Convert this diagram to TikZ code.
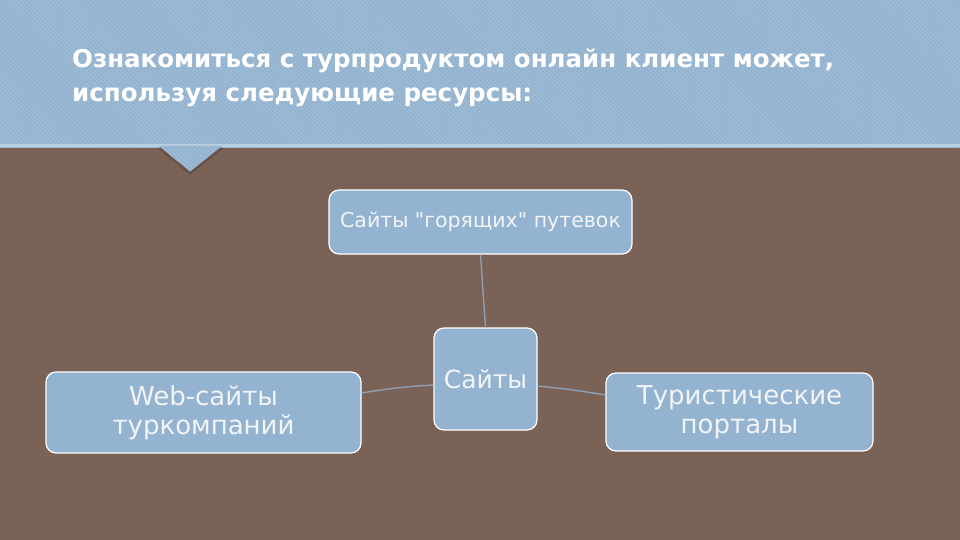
\documentclass[tikz,border=0pt]{standalone}
\usepackage{fontspec}
\setmainfont{DejaVu Sans}[Ligatures=TeXOff]
\usetikzlibrary{patterns.meta}
\definecolor{band}{HTML}{92B2CF}
\definecolor{hatch}{HTML}{A4C0D8}
\definecolor{brownbg}{HTML}{7A6257}
\definecolor{boxfill}{HTML}{93B3D1}
\definecolor{linkc}{HTML}{8C9FB3}
\definecolor{txt}{HTML}{F2F4F6}
\tikzset{
  box/.style={draw=white, line width=1.2pt, fill=boxfill, rounded corners=10pt, inner sep=0pt, text=txt, align=center},
  link/.style={draw=linkc, line width=1.4pt},
  title/.style={anchor=base west, text=white, font=\bfseries\fontsize{24.5}{29}\selectfont, inner sep=0pt},
}
\begin{document}
\begin{tikzpicture}[x=1pt,y=-1pt]
\useasboundingbox (0,0) rectangle (960,540);
\fill[brownbg] (0,0) rectangle (960,540);
\fill[band] (0,0) rectangle (960,148);
\fill[pattern={Lines[angle=-45,distance=3pt,line width=0.8pt]}, pattern color=hatch] (0,0) rectangle (960,148);
\fill[hatch!60!white, opacity=0.7] (0,144.5) rectangle (960,147.5);
\fill[brownbg!85!black] (157,148) -- (224,148) -- (190,175) -- cycle;
\fill[band] (159,146) -- (222,146) -- (190,171.5) -- cycle;
\fill[pattern={Lines[angle=-45,distance=3pt,line width=0.8pt]}, pattern color=hatch] (159,146) -- (222,146) -- (190,171.5) -- cycle;
\node[title] (t1) at (72,68) {Ознакомиться с турпродуктом онлайн клиент может,};
\node[title] (t2) at (72,102) {используя следующие ресурсы:};

\node[box, minimum width=303pt, minimum height=64pt, font=\fontsize{20.5}{24}\selectfont] (top) at (480.5,222) {Сайты "горящих" путевок};
\node[box, minimum width=103pt, minimum height=102pt] (mid) at (485.5,379) {};
\node[box, minimum width=315pt, minimum height=81pt, font=\fontsize{26}{29}\selectfont] (left) at (203.5,412.5) {Web-сайты\\туркомпаний};
\node[box, minimum width=267pt, minimum height=78pt, font=\fontsize{26}{29}\selectfont] (right) at (739.5,412) {Туристические\\порталы};
\node[anchor=base, font=\fontsize{25}{29}\selectfont, text=txt, inner sep=0pt] (midlabel) at (485.5,388) {Сайты};

\draw[link] (mid.north) -- (top.south);
\draw[link] (left.east |- 0,393) to[bend left=3] (mid.west |- 0,385);
\draw[link] (mid.east |- 0,386) to[bend left=2] (right.west |- 0,395);
\end{tikzpicture}
\end{document}
